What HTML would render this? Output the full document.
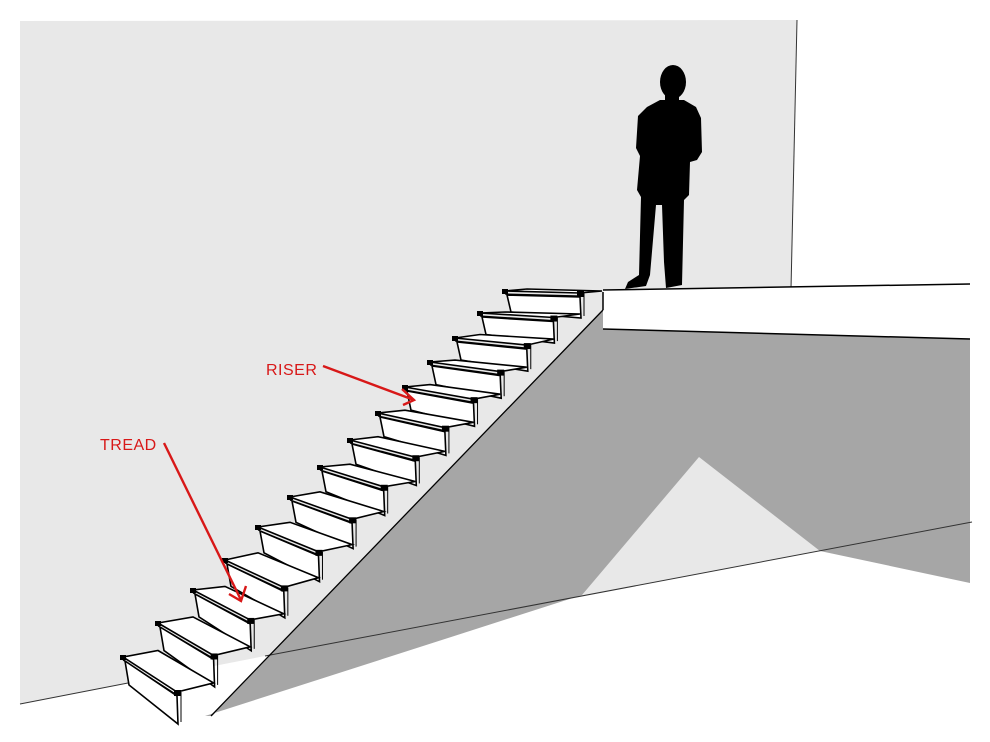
<!DOCTYPE html>
<html><head><meta charset="utf-8"><style>
html,body{margin:0;padding:0;background:#fff;width:990px;height:742px;overflow:hidden}
svg{display:block}
</style></head><body>
<svg id="s" width="990" height="742" viewBox="0 0 990 742" xmlns="http://www.w3.org/2000/svg">
<rect width="990" height="742" fill="#fff"/>
<polygon points="20,21 797,20 791,289 603,290 603,329 970,339 970,522 265,656 20,704" fill="#e8e8e8"/>
<line x1="797" y1="20" x2="791" y2="289" stroke="#333" stroke-width="1"/>
<polygon points="603,310 603,329 970,339 970,583 820,551 699,457 582,595 205,716 212,716" fill="#a6a6a6"/>
<line x1="265" y1="656" x2="972" y2="522" stroke="#333" stroke-width="1"/>
<line x1="20" y1="704" x2="128" y2="683" stroke="#333" stroke-width="1"/>
<polygon points="603,290 970,284 970,339 603,329" fill="#fff"/>
<line x1="603" y1="290" x2="970" y2="284" stroke="#000" stroke-width="1.5"/>
<line x1="603" y1="329" x2="970" y2="339" stroke="#000" stroke-width="1.5"/>
<line x1="603" y1="292" x2="603" y2="310" stroke="#000" stroke-width="1.5"/>
<line x1="603" y1="310" x2="211" y2="716" stroke="#000" stroke-width="1.3"/>
<g id="stairs"></g>
<path d="M660,100 L684,100 L696,107 L701,118 L702,152 L697,160 L690,162 L689,195 L684,200 L682,285 L666,288 L664,262 L662,205 L656,205 L650,275 L646,286 L625,289 L628,282 L639,275 L641,197 L637,190 L640,156 L636,148 L638,116 L647,107 Z" fill="#000"/>
<ellipse cx="673" cy="82" rx="13" ry="17" fill="#000"/>
<rect x="665" y="92" width="14" height="14" fill="#000"/>
<g fill="#d81818" font-family="Liberation Sans, sans-serif" font-size="16" letter-spacing="0.5">
<text x="266" y="375">RISER</text>
<text x="100" y="450">TREAD</text>
</g>
<g stroke="#d81818" stroke-width="2.4" fill="none">
<line x1="323" y1="366" x2="414" y2="400"/>
<polyline points="402,389 414,400 403,405"/>
<line x1="164" y1="443" x2="241" y2="600"/>
<polyline points="229,594 241,601 246,586"/>
</g>
</svg>
<script>
var L=[[123,657],[158,623],[193,590],[225,560],[258,527],[290,497],[320,467],[350,440],[378,413],[405,387],[430,362],[455,338],[480,313],[505,291]];
var n=L.length,g=document.getElementById('stairs'),h='';
function W(k){var t=k/(n-1);return [54+21*t,35-33*t];}
function H(k){var t=k/(n-1);return 28-7*t;}
function R(k){var w=W(k);return [L[k][0]+w[0],L[k][1]+w[1]];}
function p(a){return a.map(function(q){return q[0].toFixed(1)+','+q[1].toFixed(1)}).join(' ');}
for(var k=n-1;k>=0;k--){
 var l=L[k],r=R(k),hh=H(k),bl,br;
 if(k<n-1){var hn=H(k+1),rn=R(k+1);bl=[L[k+1][0],L[k+1][1]+hn];br=[rn[0],rn[1]+hn];}
 else{bl=[l[0]+22,l[1]-2];br=[r[0]+22,r[1]-2];}
 h+='<polygon points="'+p([l,r,br,bl])+'" fill="#fff" stroke="#000" stroke-width="1.6"/>';
 h+='<line x1="'+l[0]+'" y1="'+(l[1]+3)+'" x2="'+r[0]+'" y2="'+(r[1]+3)+'" stroke="#000" stroke-width="1.2"/>';
 h+='<polygon points="'+p([[l[0]+2,l[1]+4],[r[0],r[1]+4],[r[0]+1,r[1]+hh+4],[l[0]+6,l[1]+hh]])+'" fill="#fff" stroke="#000" stroke-width="1.6"/>';
 h+='<line x1="'+(r[0]+4)+'" y1="'+(r[1])+'" x2="'+(r[0]+4)+'" y2="'+(r[1]+hh+2)+'" stroke="#000" stroke-width="1"/>';
 h+='<rect x="'+(r[0]-3)+'" y="'+(r[1]-2)+'" width="7" height="6" fill="#000"/>';
 h+='<rect x="'+(l[0]-3)+'" y="'+(l[1]-2)+'" width="6" height="5" fill="#000"/>';
}
g.innerHTML=h;
</script>
</body></html>
